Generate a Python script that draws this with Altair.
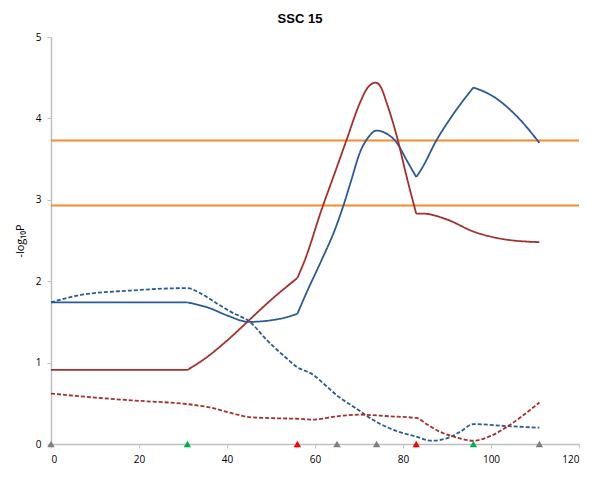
import altair as alt
import pandas as pd

# ---- data ----
blue_solid_x = [0, 31, 36, 40, 45, 50, 53, 56, 58, 61.5, 64.5, 66.4, 68.3, 70.2, 72, 74, 76, 78.6, 80.8, 83, 84, 87.7, 91.4, 96, 100.5, 105.8, 111]
blue_solid_y = [1.74, 1.74, 1.67, 1.58, 1.50, 1.52, 1.55, 1.60, 1.85, 2.26, 2.63, 2.92, 3.25, 3.58, 3.76, 3.85, 3.82, 3.70, 3.49, 3.28, 3.36, 3.74, 4.05, 4.38, 4.27, 4.03, 3.70]

red_solid_x = [0, 31, 35, 40, 45, 50, 56, 57.7, 61.5, 64.5, 67.2, 70.2, 72, 73.8, 75, 76.3, 78.6, 80.8, 83, 84.6, 89.9, 96, 103.6, 111]
red_solid_y = [0.91, 0.91, 1.05, 1.27, 1.52, 1.77, 2.04, 2.26, 2.88, 3.33, 3.74, 4.19, 4.38, 4.44, 4.38, 4.19, 3.78, 3.29, 2.83, 2.83, 2.76, 2.61, 2.51, 2.48]

blue_dash_x = [0, 6.6, 18, 31, 34, 37.6, 41, 45.2, 49, 53.6, 55.8, 59.6, 62, 64.9, 69, 74, 78, 83, 86.5, 89.9, 93, 96, 103.6, 111]
blue_dash_y = [1.74, 1.83, 1.885, 1.915, 1.85, 1.73, 1.62, 1.50, 1.28, 1.05, 0.95, 0.85, 0.74, 0.60, 0.45, 0.27, 0.17, 0.09, 0.04, 0.07, 0.15, 0.245, 0.22, 0.20]

red_dash_x = [0, 10, 20, 31, 36, 41, 45, 52, 56, 59.6, 64.9, 70.2, 77, 83, 85.5, 88.4, 92.2, 96, 100, 103.6, 107, 111]
red_dash_y = [0.62, 0.57, 0.53, 0.49, 0.45, 0.38, 0.33, 0.315, 0.31, 0.30, 0.34, 0.36, 0.34, 0.32, 0.24, 0.15, 0.08, 0.04, 0.10, 0.21, 0.34, 0.51]

# x positions where a curve has a sharp corner
blue_solid_corners = [31, 56, 83, 96]
red_solid_corners = [31, 56, 83]
blue_dash_corners = []
red_dash_corners = []

thresholds = [3.73, 2.93]

marker_x = [0, 31, 56, 65, 74, 83, 96, 111]
marker_type = ["gray", "green", "red", "gray", "gray", "red", "green", "gray"]

x_ticks = [0, 20, 40, 60, 80, 100, 120]
y_ticks = [0, 1, 2, 3, 4, 5]

series_names = ["blue_solid", "red_solid", "blue_dash", "red_dash"]
series_colors = ["#2C5A96", "#A3302D", "#2C5A96", "#A3302D"]
series_dashes = [[1, 0], [1, 0], [4, 2], [4, 2]]


# ---- build tables ----
def segments(name, xs, ys, corners):
    rows = []
    seg = 0
    for x, y in zip(xs, ys):
        rows.append({"x": x, "y": y, "series": name, "seg": f"{name}_{seg}"})
        if x in corners:
            seg += 1
            rows.append({"x": x, "y": y, "series": name, "seg": f"{name}_{seg}"})
    return pd.DataFrame(rows)


lines_df = pd.concat([
    segments("blue_solid", blue_solid_x, blue_solid_y, blue_solid_corners),
    segments("red_solid", red_solid_x, red_solid_y, red_solid_corners),
    segments("blue_dash", blue_dash_x, blue_dash_y, blue_dash_corners),
    segments("red_dash", red_dash_x, red_dash_y, red_dash_corners),
], ignore_index=True)

thr_df = pd.DataFrame({"y": thresholds})
mk_df = pd.DataFrame({"x": marker_x, "y": [0] * len(marker_x), "type": marker_type})

xscale = alt.Scale(domain=[0, 120], nice=False, zero=False)
yscale = alt.Scale(domain=[0, 5], nice=False)

x_axis = alt.Axis(values=x_ticks, format="d", title=None, grid=False, labelPadding=6, tickSize=4)
y_axis = alt.Axis(values=y_ticks, format="d", title="-log\u2081\u2080P", grid=False, tickSize=4,
                  labelPadding=6, titlePadding=10, titleFontWeight="normal",
                  titleFontSize=11, titleFont="Open Sans", titleColor="#000000")

lines = alt.Chart(lines_df).mark_line(interpolate="monotone", strokeWidth=1.8).encode(
    x=alt.X("x:Q", scale=xscale, axis=x_axis),
    y=alt.Y("y:Q", scale=yscale, axis=y_axis),
    color=alt.Color("series:N", scale=alt.Scale(domain=series_names, range=series_colors), legend=None),
    strokeDash=alt.StrokeDash("series:N", scale=alt.Scale(domain=series_names, range=series_dashes), legend=None),
    detail="seg:N",
)

rules = alt.Chart(thr_df).mark_rule(color="#F58B2E", strokeWidth=2).encode(
    y=alt.Y("y:Q", scale=yscale),
)

markers = alt.Chart(mk_df).mark_point(shape="triangle-up", filled=True, size=55, opacity=1).encode(
    x=alt.X("x:Q", scale=xscale),
    y=alt.Y("y:Q", scale=yscale),
    color=alt.Color("type:N", scale=alt.Scale(domain=["gray", "green", "red"],
                                               range=["#808080", "#00B050", "#FF0000"]), legend=None),
)

chart = alt.layer(rules, lines, markers).resolve_scale(
    color="independent", strokeDash="independent"
).properties(
    width=528,
    height=407,
    autosize=alt.AutoSizeParams(type="none"),
    padding={"left": 43, "top": 29, "right": 13, "bottom": 26},
    title=alt.TitleParams("SSC 15", font="Liberation Sans", fontSize=13, fontWeight="bold",
                          color="#000000", anchor="middle", dx=-15, offset=6),
).configure_axis(
    domainColor="#BFBFBF",
    domainWidth=1.5,
    tickColor="#BFBFBF",
    labelColor="#000000",
    labelFont="Open Sans",
    labelFontSize=10,
).configure_view(stroke=None)

chart.save("out.html", embed_options={"renderer": "svg", "actions": False})
